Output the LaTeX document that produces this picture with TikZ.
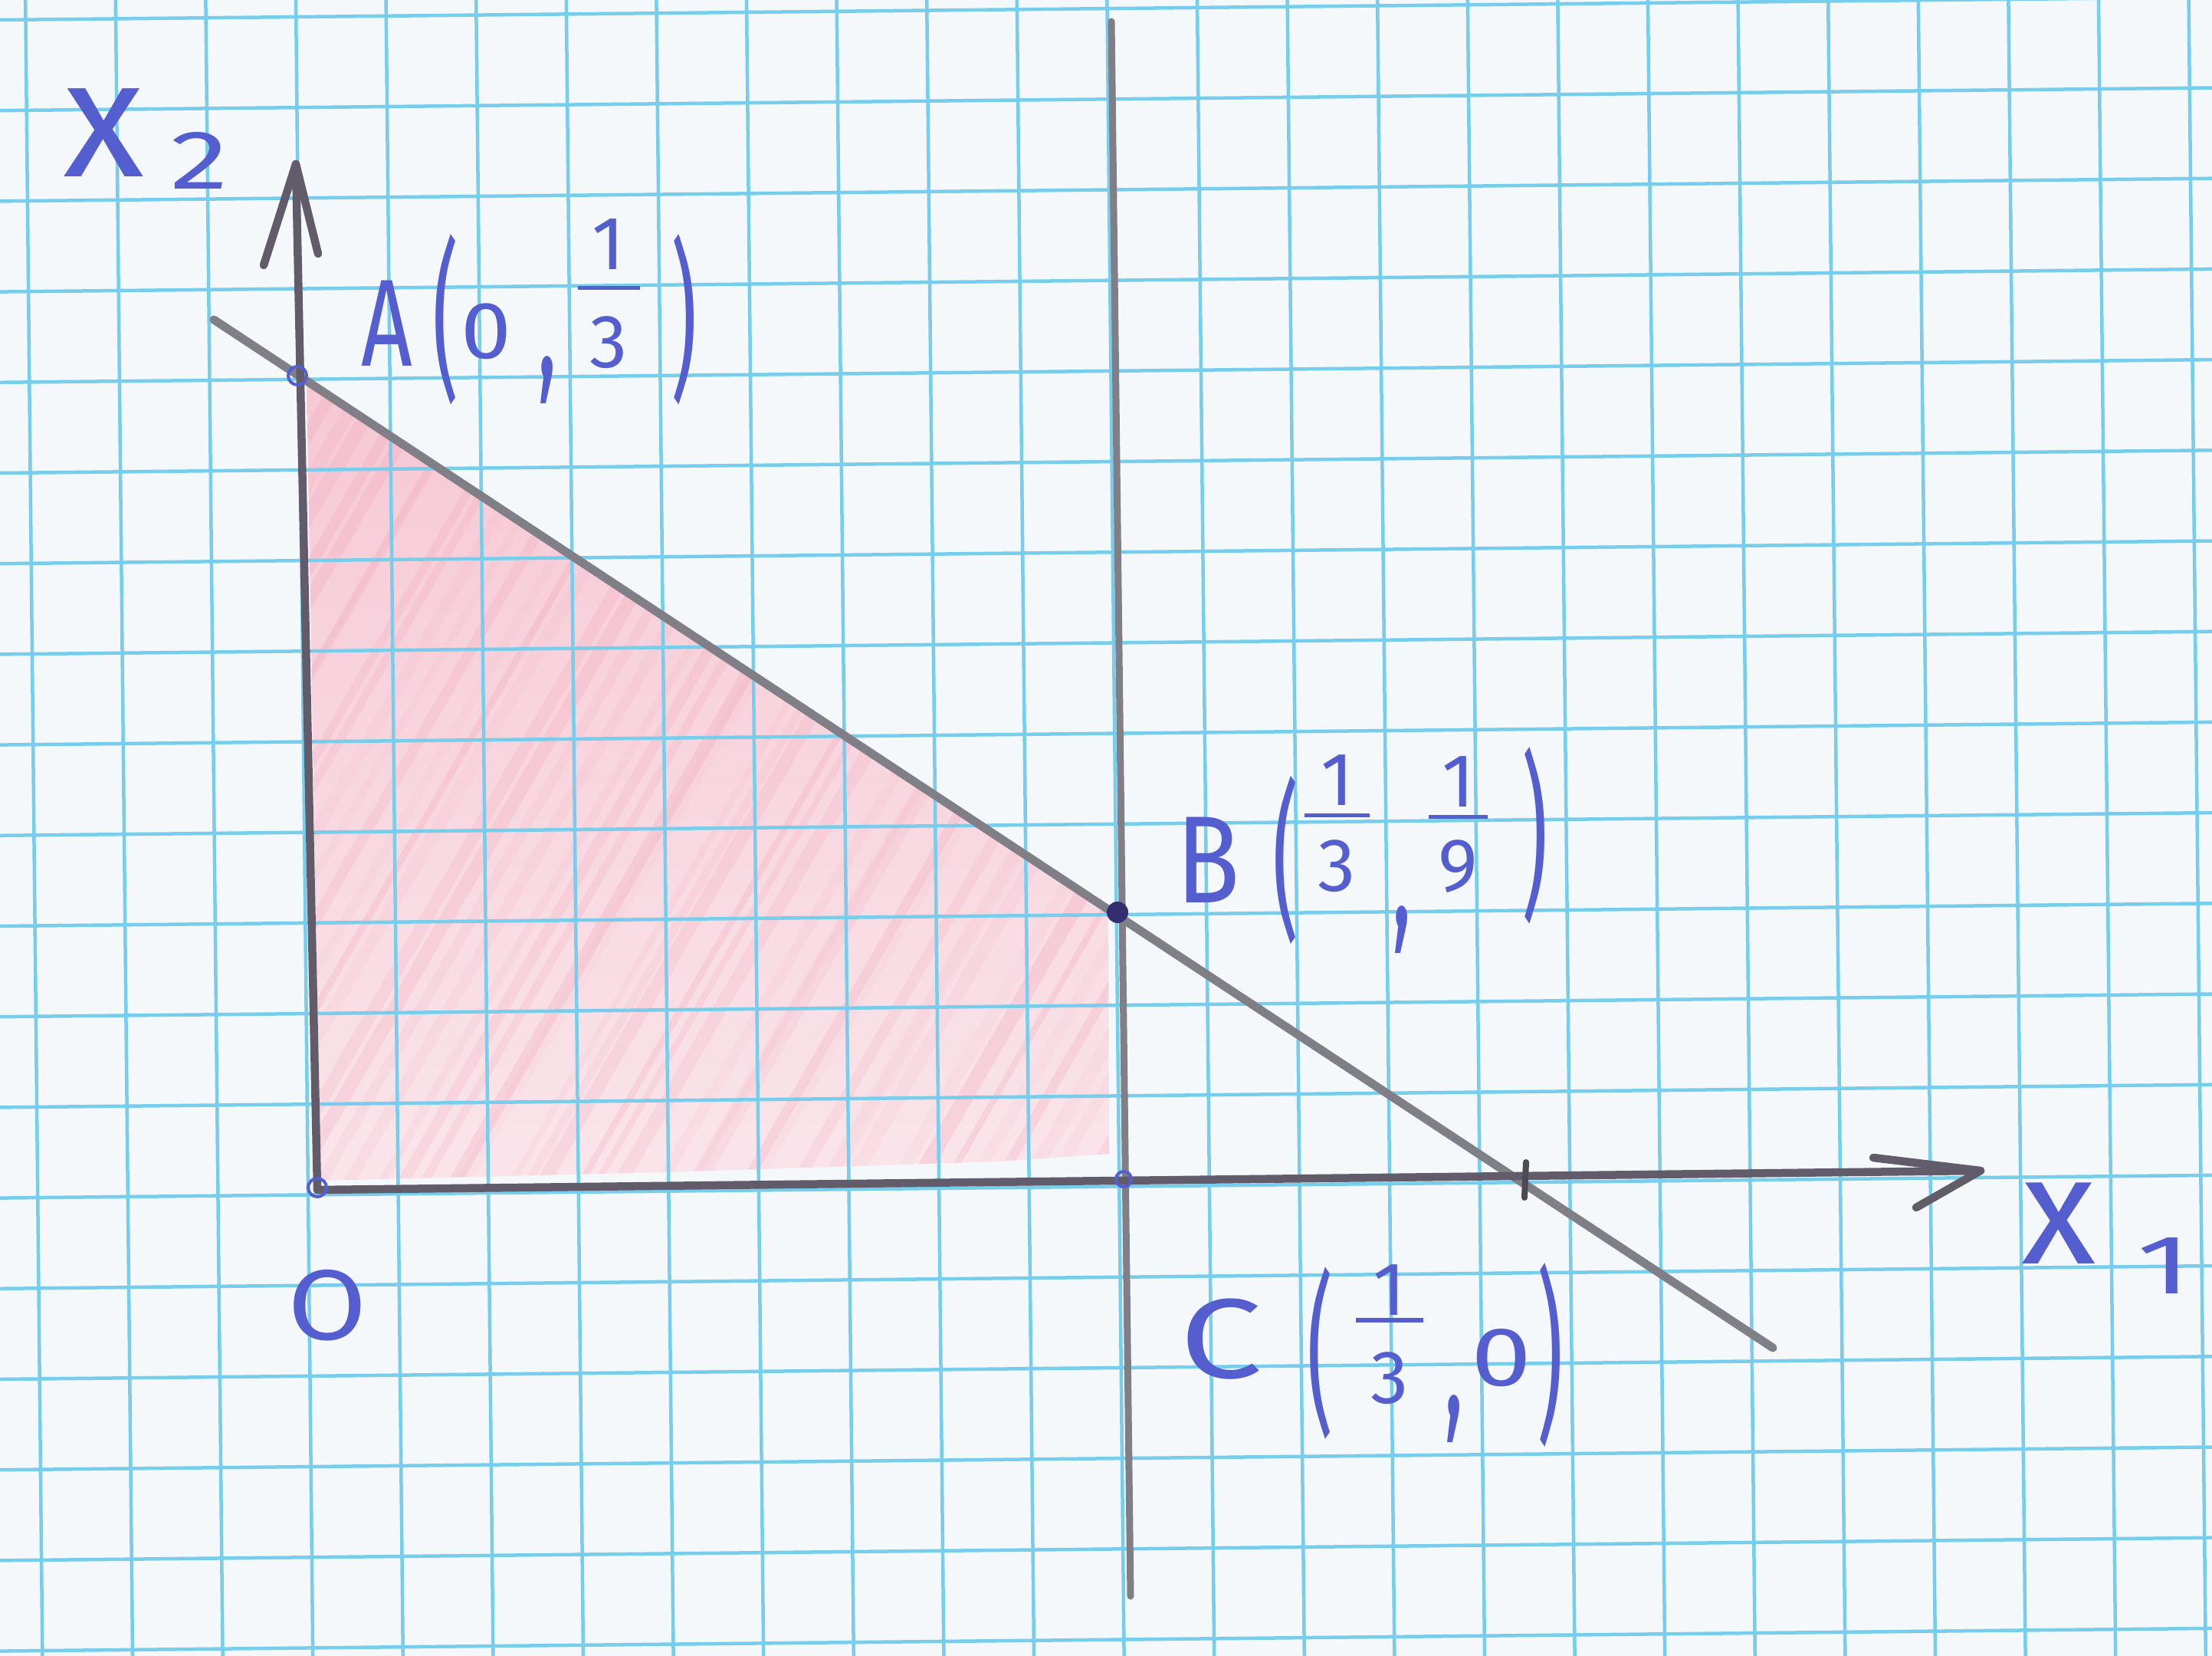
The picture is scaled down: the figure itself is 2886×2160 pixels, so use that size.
\documentclass[tikz,border=0pt]{standalone}
\usepackage{fontspec}
\setmainfont{Fira Sans}
\usepackage{graphicx}
\definecolor{paper}{RGB}{244,248,250}
\definecolor{gridc}{RGB}{118,206,236}
\definecolor{graphite}{RGB}{98,92,106}
\definecolor{graphitelight}{RGB}{128,126,134}
\definecolor{inkc}{RGB}{84,94,206}
\definecolor{dotc}{RGB}{52,46,112}
\definecolor{pinkA}{RGB}{246,200,212}
\definecolor{pinkB}{RGB}{250,229,235}
\definecolor{pinkhatch}{RGB}{236,130,156}
% place #3 centred at x=#1, raised by #2
\newcommand{\putat}[3]{\makebox[0pt][l]{\hspace*{#1}\raisebox{#2}{\makebox[0pt][c]{#3}}}}
% handwritten-style fraction: num, den, bar width, gap above bar, gap below bar
\newcommand{\hfrac}[5]{\vbox{\offinterlineskip\halign{\hfil##\hfil\cr#1\cr\noalign{\kern#4}\rule{#3}{1.5pt}\cr\noalign{\kern#5}#2\cr}}}
\tikzset{
  gridline/.style={draw=gridc, line width=0.045cm},
  pencil/.style={draw=graphite, line width=0.105cm, line cap=round, line join=round},
  pencilthin/.style={draw=graphitelight, line width=0.09cm, line cap=round},
  slantline/.style={draw=graphitelight, line width=0.11cm, line cap=round},
  inkline/.style={draw=inkc, line width=0.04cm},
  inklabel/.style={text=inkc, inner sep=0pt, anchor=base west, font=\fontsize{30}{36}\selectfont},
  hatch/.style={draw=pinkhatch},
}
\begin{document}
\begin{tikzpicture}[x=0.01cm,y=-0.01cm]
\useasboundingbox (0,0) rectangle (2886,2160);
\fill[paper] (0,0) rectangle (2886,2160);
\pgfmathsetseed{11}

% points
\coordinate (O) at (414,1552);
\coordinate (A) at (388,490);
\coordinate (B) at (1458,1190);
\coordinate (C) at (1466,1538);
\coordinate (D) at (1990,1539);
\coordinate (X2tip) at (386,214);
\coordinate (X2bl) at (344,346);
\coordinate (X2br) at (415,331);
\coordinate (X1tip) at (2584,1527);
\coordinate (X1bu) at (2444,1510);
\coordinate (X1bd) at (2500,1575);
\coordinate (L0) at (279,417);
\coordinate (L1) at (2313,1758);
\coordinate (V0) at (1450,28);
\coordinate (V1) at (1475,2082);
\coordinate (Dt) at (1991,1516);
\coordinate (Db) at (1989,1562);

% shaded feasible region (coloured pencil)
\begin{scope}
  \clip (400,498) -- (1446,1187) -- (1447,1505) -- (1300,1515) -- (900,1528) -- (418,1540) -- cycle;
  \shade[top color=pinkA, bottom color=pinkB] (380,480) rectangle (1460,1560);
  \foreach \i in {0,34,...,1900} {
    \pgfmathsetmacro{\op}{0.04+0.14*rnd}
    \pgfmathsetmacro{\lw}{0.08+0.12*rnd}
    \pgfmathsetmacro{\dx}{20*rand}
    \draw[hatch, opacity=\op, line width=\lw cm] ({\i-300+\dx},1600) -- ++(720,-1250);
  }
\end{scope}

% grid
\foreach \k in {0,...,24} {
  \draw[gridline] ({33.2+117.6*\k},0) -- ({55.4+117.6*\k},2160);
}
\foreach \k in {0,...,18} {
  \draw[gridline] (0,{26+118.2*\k}) -- (2886,{-3.7+118.2*\k});
}

% pencil lines
\draw[pencilthin] (V0) -- (V1);
\draw[slantline] (L0) -- (L1);
\draw[pencil] (O) -- (X2tip);
\draw[pencil] (X2bl) -- (X2tip) -- (X2br);
\draw[pencil] (O) -- (X1tip);
\draw[pencil] (X1bu) -- (X1tip) -- (X1bd);
\draw[draw=graphite!80!black, line width=0.08cm, line cap=round] (Dt) -- (Db);

% ink marks
\draw[inkline] (A) circle[radius=12];
\draw[inkline] (O) ++(0,-3) circle[radius=12];
\draw[inkline] (C) circle[radius=10];
\fill[dotc] (B) circle[radius=14];

% labels
\node[inklabel] (labx2) at (77,230) {%
  \putat{15.9pt}{0pt}{\fontsize{62}{62}\selectfont x}%
  \putat{51.5pt}{-4.8pt}{\fontsize{31}{31}\selectfont\scalebox{1.4}[1]{2}}};
\node[inklabel] (labx1) at (2621,1648) {%
  \putat{17.9pt}{0pt}{\fontsize{57}{57}\selectfont x}%
  \putat{57pt}{-11.1pt}{\fontsize{31}{31}\selectfont\scalebox{1.5}[1]{1}}};
\node[inklabel] (labO) at (373,1747) {%
  \putat{14.8pt}{0pt}{\fontsize{37}{37}\selectfont\scalebox{1.15}[1]{O}}};

\node[inklabel] (labA) at (470,477) {%
  \putat{9.2pt}{0pt}{\fontsize{46}{46}\selectfont\scalebox{0.72}[1]{A}}%
  \putat{30.9pt}{-5.2pt}{\scalebox{1}[2.13]{(}}%
  \putat{46.1pt}{2.6pt}{\scalebox{1.12}[1]{0}}%
  \putat{68.7pt}{-4pt}{\scalebox{1}[2]{,}}%
  \putat{91.5pt}{-0.8pt}{\fontsize{28}{28}\selectfont\hfrac{1}{3}{23pt}{6pt}{10pt}}%
  \putat{119.5pt}{-5.2pt}{\scalebox{1}[2.13]{)}}};

\node[inklabel] (labB) at (1538,1177) {%
  \putat{10.2pt}{0pt}{\fontsize{46}{46}\selectfont\scalebox{0.85}[1]{B}}%
  \putat{39pt}{-6.5pt}{\scalebox{1}[2.1]{(}}%
  \putat{58pt}{4pt}{\fontsize{28}{28}\selectfont\hfrac{1}{3}{24pt}{3pt}{8.6pt}}%
  \putat{82.1pt}{-9pt}{\scalebox{1}[2]{,}}%
  \putat{103pt}{4pt}{\fontsize{28}{28}\selectfont\hfrac{1}{9}{22pt}{3pt}{8pt}}%
  \putat{131.4pt}{1.7pt}{\scalebox{1}[2.21]{)}}};

\node[inklabel] (labC) at (1530,1797) {%
  \putat{17.2pt}{0pt}{\fontsize{42}{42}\selectfont\scalebox{1.3}[1]{C}}%
  \putat{54pt}{-13.4pt}{\scalebox{1}[2.15]{(}}%
  \putat{79.8pt}{-9.4pt}{\fontsize{28}{28}\selectfont\hfrac{1}{3}{24.8pt}{1pt}{11pt}}%
  \putat{103.7pt}{-14pt}{\scalebox{1}[2]{,}}%
  \putat{121.3pt}{-3.1pt}{\fontsize{31}{31}\selectfont\scalebox{1.3}[1]{0}}%
  \putat{139.4pt}{-15.9pt}{\scalebox{1}[2.3]{)}}};
\end{tikzpicture}
\end{document}
